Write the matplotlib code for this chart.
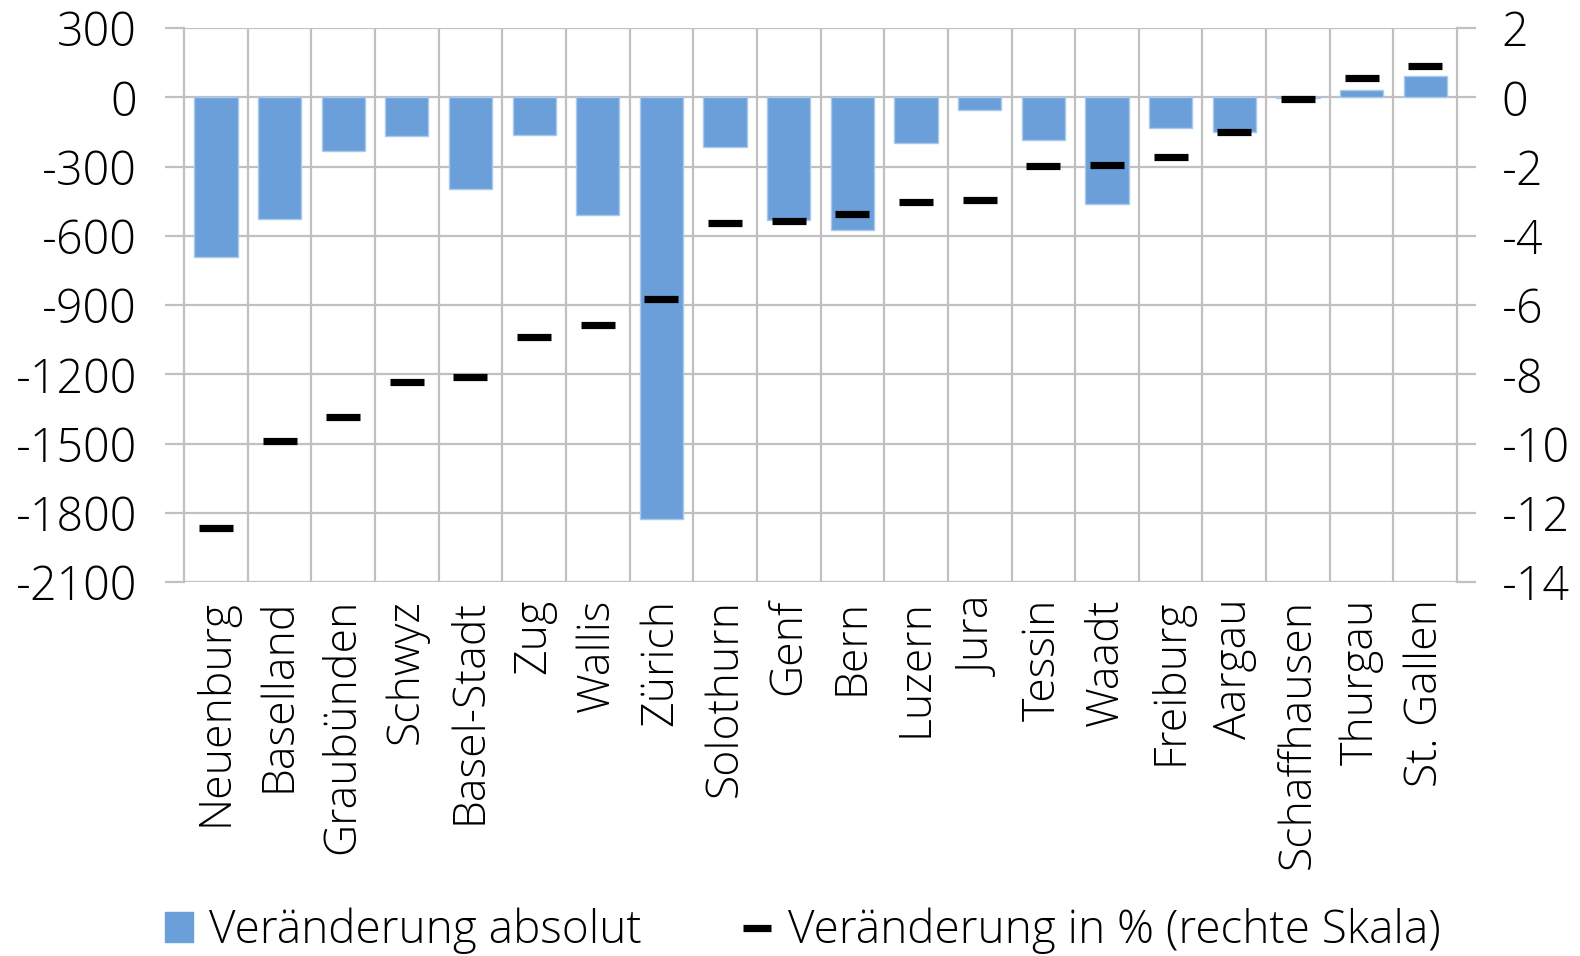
import matplotlib
matplotlib.use('Agg')
import matplotlib.pyplot as plt
from matplotlib.lines import Line2D
from matplotlib.patches import Patch

kantone = ['Neuenburg', 'Baselland', 'Graubünden', 'Schwyz', 'Basel-Stadt', 'Zug',
           'Wallis', 'Zürich', 'Solothurn', 'Genf', 'Bern', 'Luzern', 'Jura', 'Tessin',
           'Waadt', 'Freiburg', 'Aargau', 'Schaffhausen', 'Thurgau', 'St. Gallen']
absolut = [-692, -528, -234, -169, -398, -165, -511, -1827, -216, -533, -576, -199,
           -56, -186, -463, -134, -152, -5, 30, 91]
prozent = [-12.44, -9.93, -9.24, -8.23, -8.08, -6.93, -6.58, -5.83, -3.64, -3.58,
           -3.38, -3.03, -2.97, -1.99, -1.96, -1.73, -1.01, -0.06, 0.55, 0.89]
links_ticks = [300, 0, -300, -600, -900, -1200, -1500, -1800, -2100]
rechts_ticks = [2, 0, -2, -4, -6, -8, -10, -12, -14]

blau = '#6A9FDA'
grau = '#C0C0C0'

plt.rcParams['font.family'] = ['Open Sans', 'DejaVu Sans']
plt.rcParams['font.weight'] = 'light'

fig = plt.figure(figsize=(15.8, 9.56), dpi=100)
ax = fig.add_axes([0.1165, 0.3912, 0.8057, 0.5795])
ax2 = ax.twinx()

x = list(range(len(kantone)))
ax.bar(x, absolut, width=0.68, color=blau, edgecolor='#A9C8EC', linewidth=1, zorder=3)
ax2.plot(x, prozent, linestyle='none', marker='_', markersize=24, markeredgewidth=5.2,
         color='black', zorder=4)

ax.set_xlim(-0.5, len(kantone) - 0.5)
ax.set_ylim(-2100, 300)
ax2.set_ylim(-14, 2)
ax.set_yticks(links_ticks)
ax2.set_yticks(rechts_ticks)
ax.set_yticklabels([str(t) for t in links_ticks])
ax2.set_yticklabels([str(t) for t in rechts_ticks])

ax.grid(axis='y', color=grau, linewidth=1.6, zorder=0)
for b in [i + 0.5 for i in x[:-1]]:
    ax.axvline(b, color=grau, linewidth=1.6, zorder=0)
ax.set_xticks(x)
ax.set_xticklabels(kantone, rotation=90, fontsize=32)
ax.tick_params(axis='x', length=0, pad=12)
ax.tick_params(axis='y', length=14, width=1.6, color=grau, labelsize=33.5, pad=20)
ax2.tick_params(axis='y', length=14, width=1.6, color=grau, labelsize=33.5, pad=18)

for a in (ax, ax2):
    for s in a.spines.values():
        s.set_visible(False)
ax.spines['left'].set_visible(True)
ax.spines['left'].set_color(grau)
ax.spines['left'].set_linewidth(1.6)
ax2.spines['right'].set_visible(True)
ax2.spines['right'].set_color(grau)
ax2.spines['right'].set_linewidth(1.6)

handles = [Patch(facecolor=blau, edgecolor=blau),
           Line2D([0], [0], color='black', linewidth=5.2, solid_capstyle='butt')]
fig.legend(handles, ['Veränderung absolut', 'Veränderung in % (rechte Skala)'],
           loc='center', bbox_to_anchor=(0.508, 0.026), ncol=2, frameon=False,
           fontsize=33, handlelength=0.62, handleheight=0.62, handletextpad=0.35,
           columnspacing=2.2)

fig.savefig('out.png', dpi=100)
